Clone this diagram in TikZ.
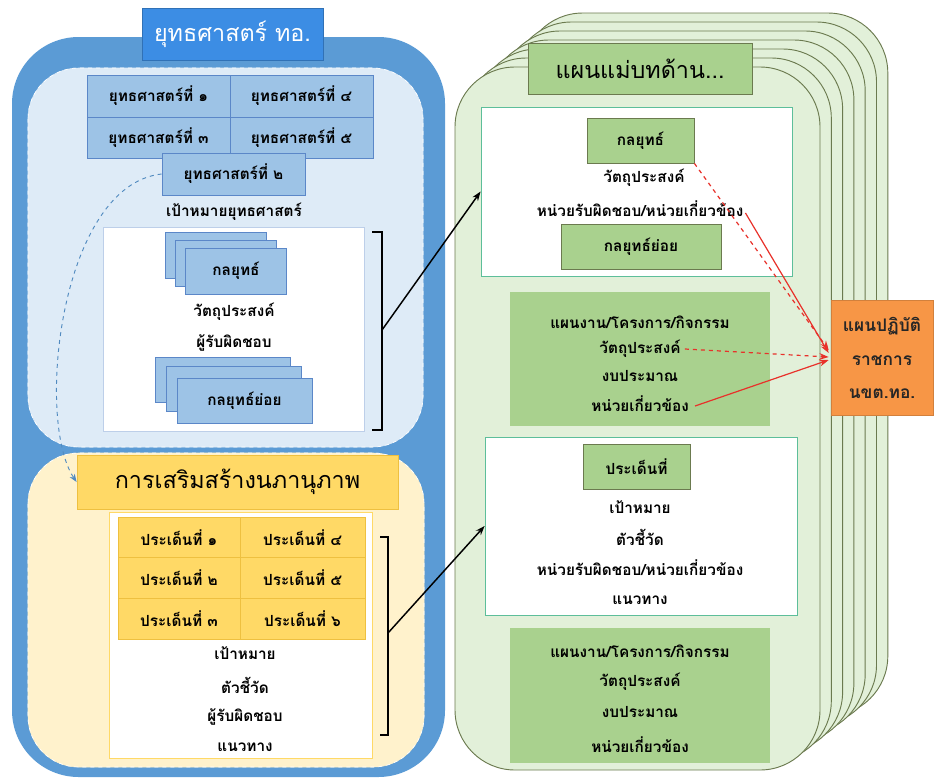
\documentclass[tikz,border=0pt]{standalone}
\usepackage{fontspec}
\newfontfamily\thai[Script=Thai]{Loma}
\usetikzlibrary{calc,arrows.meta}
\definecolor{oblue}{HTML}{5B9BD5}
\definecolor{lblue}{HTML}{DEEBF7}
\definecolor{tblue}{HTML}{3C8DE4}
\definecolor{sblue}{HTML}{9DC3E6}
\definecolor{sbord}{HTML}{5B87C8}
\definecolor{lyel}{HTML}{FFF2CC}
\definecolor{gold}{HTML}{FFD966}
\definecolor{goldb}{HTML}{EEC040}
\definecolor{lgreen}{HTML}{E2F0D9}
\definecolor{mgreen}{HTML}{A9D18E}
\definecolor{olive}{HTML}{6B7A4F}
\definecolor{mint}{HTML}{5DBE9A}
\definecolor{orng}{HTML}{F79646}
\definecolor{redarr}{HTML}{E8312A}
\newcommand\tbfont{\thai\bfseries\fontsize{11.5}{13}\selectfont}
\newcommand\ttlfont{\thai\fontsize{17.5}{20}\selectfont}
\tikzset{
  txt/.style={inner sep=0pt, font=\tbfont},
  sbox/.style={rectangle, draw=sbord, fill=sblue, line width=0.6pt, inner sep=0pt, font=\tbfont},
  ybox/.style={rectangle, draw=goldb, fill=gold, line width=0.6pt, inner sep=0pt, font=\tbfont},
  gbox/.style={rectangle, draw=olive, fill=mgreen, line width=0.6pt, inner sep=0pt, font=\tbfont},
  gplain/.style={rectangle, fill=mgreen, inner sep=0pt},
  wbox/.style={rectangle, fill=white, inner sep=0pt},
  blk/.style={line width=1.1pt, -{Stealth[length=7pt,width=5pt]}},
  brk/.style={line width=1.1pt},
  rsolid/.style={redarr, line width=0.9pt, -{Stealth[length=7pt,width=5pt]}},
  rdash/.style={redarr, line width=0.9pt, dashed, -{Stealth[length=7pt,width=5pt]}},
}
\begin{document}
\begin{tikzpicture}[x=0.75pt,y=-0.75pt]
\useasboundingbox (0,0) rectangle (934,778);
% ---------------- left side ----------------
\fill[oblue, rounded corners=50pt] (12,37) rectangle (445,777);
\draw[lblue, fill=lblue, rounded corners=38pt] (28,68) rectangle (423,447);
\draw[white, dashed, line width=0.5pt, rounded corners=38pt] (28,68) rectangle (423,447);
\draw[lyel, fill=lyel, rounded corners=38pt] (28,453) rectangle (424,767);
\draw[white, dashed, line width=0.5pt, rounded corners=38pt] (28,453) rectangle (424,767);

\node[rectangle, fill=tblue, draw=tblue!80!black, line width=0.4pt, minimum width=181*0.75pt, minimum height=52*0.75pt, text=white, font=\ttlfont] (ttl) at (232.5,34) {ยุทธศาสตร์ ทอ.};

\node[sbox, minimum width=143*0.75pt, minimum height=42*0.75pt] (s1) at (158.5,96) {ยุทธศาสตร์ที่ ๑};
\node[sbox, minimum width=143*0.75pt, minimum height=42*0.75pt] (s4) at (301.5,96) {ยุทธศาสตร์ที่ ๔};
\node[sbox, minimum width=143*0.75pt, minimum height=41*0.75pt] (s3) at (158.5,137.5) {ยุทธศาสตร์ที่ ๓};
\node[sbox, minimum width=143*0.75pt, minimum height=41*0.75pt] (s5) at (301.5,137.5) {ยุทธศาสตร์ที่ ๕};
\node[sbox, minimum width=143*0.75pt, minimum height=42*0.75pt] (s2) at (233.5,174) {ยุทธศาสตร์ที่ ๒};
\node[txt] (goal) at (234,212) {เป้าหมายยุทธศาสตร์};

\node[wbox, draw=sbord!40, line width=0.5pt, minimum width=261*0.75pt, minimum height=204*0.75pt] (wl1) at (233.5,329) {};
\node[sbox, minimum width=101*0.75pt, minimum height=46*0.75pt] (k3) at (215.5,255) {};
\node[sbox, minimum width=101*0.75pt, minimum height=46*0.75pt] (k2) at (225.5,263) {};
\node[sbox, minimum width=101*0.75pt, minimum height=46*0.75pt] (k1) at (236,271) {กลยุทธ์};
\node[txt] (obj1) at (234,312) {วัตถุประสงค์};
\node[txt] (resp1) at (234,343) {ผู้รับผิดชอบ};
\node[sbox, minimum width=135*0.75pt, minimum height=45*0.75pt] (ks3) at (222.5,379.5) {};
\node[sbox, minimum width=135*0.75pt, minimum height=45*0.75pt] (ks2) at (233.5,388.5) {};
\node[sbox, minimum width=135*0.75pt, minimum height=45*0.75pt] (ks1) at (244.5,400.5) {กลยุทธ์ย่อย};

\coordinate (b1t) at (372,232);
\coordinate (b1b) at (372,430);
\coordinate (b1m) at (382,330);
\draw[brk] (b1t) -- ++(10,0) |- (b1b);

\node[rectangle, fill=gold, draw=goldb, line width=0.6pt, minimum width=321*0.75pt, minimum height=54*0.75pt, font=\ttlfont] (ytl) at (237.5,482) {การเสริมสร้างนภานุภาพ};
\node[wbox, draw=gold, line width=0.6pt, minimum width=263*0.75pt, minimum height=246*0.75pt] (wl2) at (240.5,635) {};
\node[ybox, minimum width=122*0.75pt, minimum height=40.5*0.75pt] (p1) at (179,537.5) {ประเด็นที่ ๑};
\node[ybox, minimum width=125*0.75pt, minimum height=40.5*0.75pt] (p4) at (302.5,537.5) {ประเด็นที่ ๔};
\node[ybox, minimum width=122*0.75pt, minimum height=41*0.75pt] (p2) at (179,578) {ประเด็นที่ ๒};
\node[ybox, minimum width=125*0.75pt, minimum height=41*0.75pt] (p5) at (302.5,578) {ประเด็นที่ ๕};
\node[ybox, minimum width=122*0.75pt, minimum height=41.5*0.75pt] (p3) at (179,619) {ประเด็นที่ ๓};
\node[ybox, minimum width=125*0.75pt, minimum height=41.5*0.75pt] (p6) at (302.5,619) {ประเด็นที่ ๖};
\node[txt] (tg2) at (245,653) {เป้าหมาย};
\node[txt] (ind2) at (245,685) {ตัวชี้วัด};
\node[txt] (resp2) at (245,717) {ผู้รับผิดชอบ};
\node[txt] (way2) at (245,747) {แนวทาง};

\coordinate (b2t) at (380,537);
\coordinate (b2b) at (380,735);
\coordinate (b2m) at (388,633);
\draw[brk] (b2t) -- ++(8,0) |- (b2b);

% dashed blue curve
\draw[oblue!90!black, dashed, line width=0.7pt, -{Stealth[length=6pt,width=4.5pt]}] (s2.west) .. controls (60,185) and (35,420) .. (ytl.west);

% ---------------- right side ----------------
\foreach \k in {6,5,4,3,2,1,0}{
  \draw[olive, fill=lgreen, line width=0.7pt, rounded corners=45pt]
    ({455+11.3*\k},{67-9*\k}) rectangle ({820+11.3*\k},{770-9*\k});
}
\node[gbox, minimum width=224*0.75pt, minimum height=51*0.75pt, font=\ttlfont] (gtl) at (640,68.5) {แผนแม่บทด้าน...};

\node[wbox, draw=mint, line width=0.6pt, minimum width=311*0.75pt, minimum height=169*0.75pt] (wA) at (636.5,191.5) {};
\node[gbox, minimum width=107*0.75pt, minimum height=45*0.75pt] (gk) at (640.5,140.5) {กลยุทธ์};
\node[txt] (objA) at (644,178) {วัตถุประสงค์};
\node[txt] (respA) at (640,209) {หน่วยรับผิดชอบ/หน่วยเกี่ยวข้อง};
\node[gbox, minimum width=160*0.75pt, minimum height=45*0.75pt] (gks) at (641,246.5) {กลยุทธ์ย่อย};

\node[gplain, minimum width=260*0.75pt, minimum height=134*0.75pt] (gB) at (640,359) {};
\node[txt] (planB) at (640,322) {แผนงาน/โครงการ/กิจกรรม};
\node[txt] (objB) at (640,349) {วัตถุประสงค์};
\node[txt] (budB) at (640,376) {งบประมาณ};
\node[txt] (unitB) at (640,404) {หน่วยเกี่ยวข้อง};

\node[wbox, draw=mint, line width=0.6pt, minimum width=312*0.75pt, minimum height=178*0.75pt] (wC) at (641,526) {};
\node[gbox, minimum width=107*0.75pt, minimum height=45*0.75pt] (gp) at (636.5,466.5) {ประเด็นที่};
\node[txt] (tgC) at (640,507) {เป้าหมาย};
\node[txt] (indC) at (640,537) {ตัวชี้วัด};
\node[txt] (respC) at (640,568) {หน่วยรับผิดชอบ/หน่วยเกี่ยวข้อง};
\node[txt] (wayC) at (640,600) {แนวทาง};

\node[gplain, minimum width=260*0.75pt, minimum height=135*0.75pt] (gD) at (640,695.5) {};
\node[txt] (planD) at (640,651) {แผนงาน/โครงการ/กิจกรรม};
\node[txt] (objD) at (640,682) {วัตถุประสงค์};
\node[txt] (budD) at (640,712) {งบประมาณ};
\node[txt] (unitD) at (640,745) {หน่วยเกี่ยวข้อง};

\node[rectangle, fill=orng, draw=orng!85!black, line width=0.5pt, minimum width=102*0.75pt, minimum height=115*0.75pt, align=center, font=\thai\bfseries\fontsize{13}{15}\selectfont, text=black!85] (opr) at (882,358) {แผนปฏิบัติ\\[10pt]ราชการ\\[10pt]นขต.ทอ.};

% black arrows
\draw[blk] (b1m) -- (wA.west);
\draw[blk] (b2m) -- (wC.west);

% red arrows
\coordinate (o1) at ($(opr.west)+(-2,-8)$);
\coordinate (o2) at ($(opr.west)+(-2,-5)$);
\coordinate (o3) at ($(opr.west)+(-2,-1)$);
\coordinate (o4) at ($(opr.west)+(-2,2)$);
\draw[rdash] (gk.south east) -- (o1);
\draw[rsolid] ($(respA.east)+(2,4)$) -- (o2);
\draw[rdash] ($(objB.east)+(4,0)$) -- (o3);
\draw[rsolid] ($(unitB.east)+(6,2)$) -- (o4);
\end{tikzpicture}
\end{document}
